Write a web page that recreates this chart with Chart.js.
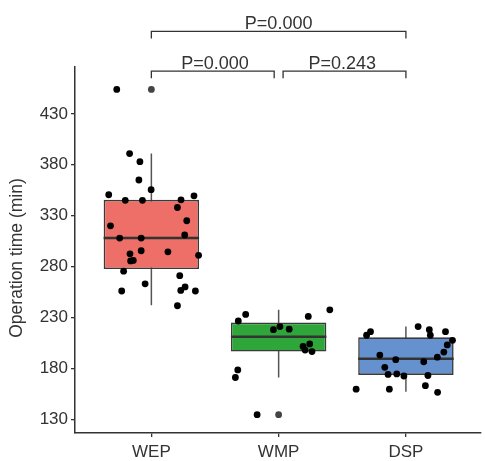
<!DOCTYPE html>
<html>
<head>
<meta charset="utf-8">
<script src="https://cdn.jsdelivr.net/npm/chart.js@4.4.0/dist/chart.umd.min.js"></script>
<style>
html, body { margin: 0; padding: 0; background: #fff; }
#wrap { width: 485px; height: 461px; }
</style>
</head>
<body>
<div id="wrap"><canvas id="boxChart" width="485" height="461"></canvas></div>
<script>
// Operation time by group - boxplot with jittered points

const categories = ['WEP', 'WMP', 'DSP'];
const yTicks = [130, 180, 230, 280, 330, 380, 430];

// box stats per group
const whiskerLow = [242, 171, 157];
const q1 = [277.5, 196.5, 173.5];
const medians = [308, 211, 189.5];
const q3 = [345.5, 225, 210.5];
const whiskerHigh = [391, 237.5, 221];
const outliers = [[454], [134.5], []];
const boxColors = ['#ED6F67', '#2EA63A', '#6592CF'];

// raw observations and their horizontal jitter
const wepTime = [454, 391, 383, 365, 355.5, 350.5, 349.5, 345, 345, 345.5, 338, 325, 320, 311, 308, 308, 295.5, 292.5, 294.5, 291, 285.5, 286, 275.5, 271, 263, 256, 260, 256.5, 256, 241.5];
const wepJitter = [-0.272, -0.171, -0.090, -0.098, -0.002, -0.335, 0.335, -0.205, -0.070, 0.233, 0.205, 0.278, -0.321, 0.262, -0.249, -0.080, -0.080, -0.168, 0.130, 0.371, -0.163, -0.142, -0.218, 0.223, -0.049, -0.233, 0.265, 0.231, 0.346, 0.205];
const wmpTime = [233, 226.5, 231, 237.5, 221, 218, 218.5, 204, 201.5, 198, 196.5, 178.5, 171, 134.5];
const wmpJitter = [-0.259, -0.317, 0.233, 0.402, 0.010, -0.041, 0.083, 0.244, 0.192, 0.208, 0.262, -0.321, -0.340, -0.169];
const dspTime = [212.5, 216, 221, 218, 212.5, 216, 207.5, 203, 196, 191, 193, 188.5, 186.5, 181, 174, 174.5, 172.5, 173, 163, 159.5, 159.5, 156.5];
const dspJitter = [-0.309, -0.278, 0.096, 0.184, 0.192, 0.311, 0.366, 0.325, 0.298, 0.247, -0.205, -0.080, 0.140, -0.166, -0.140, -0.072, -0.016, 0.173, 0.153, -0.391, -0.130, 0.249];

// significance brackets
const bracketFrom = [1, 2, 1];
const bracketTo = [2, 3, 3];
const bracketLevel = [472, 472, 511];
const pLabels = ['P=0.000', 'P=0.243', 'P=0.000'];

const FONT = "'Liberation Sans', Arial, Helvetica, sans-serif";
const INK = '#333333';
const boxWidth = 0.75;
const bracketDrop = 7;
const bracketGap = 0.035;

function groupPoints(times, jitter, pos) {
    return times.map((t, i) => ({ x: pos + jitter[i], y: t }));
}

const jitterPoints = [].concat(
    groupPoints(wepTime, wepJitter, 1),
    groupPoints(wmpTime, wmpJitter, 2),
    groupPoints(dspTime, dspJitter, 3)
);

const outlierPoints = [];
outliers.forEach((list, i) => list.forEach(v => outlierPoints.push({ x: i + 1, y: v })));

const whiskerData = [];
categories.forEach((c, i) => {
    whiskerData.push({ x: i + 1, y: whiskerLow[i] }, { x: i + 1, y: whiskerHigh[i] }, { x: i + 1, y: null });
});

const medianData = [];
categories.forEach((c, i) => {
    medianData.push({ x: i + 1 - boxWidth / 2, y: medians[i] }, { x: i + 1 + boxWidth / 2, y: medians[i] }, { x: i + 1, y: null });
});

// bracket lines; ends that meet another bracket on the same level are pulled in a bit
const bracketSets = bracketFrom.map((a, i) => {
    const b = bracketTo[i];
    const shared = v => bracketLevel.some((l, j) => j !== i && l === bracketLevel[i] && (bracketFrom[j] === v || bracketTo[j] === v));
    const xa = a + (shared(a) ? bracketGap : 0);
    const xb = b - (shared(b) ? bracketGap : 0);
    return {
        type: 'line',
        data: [
            { x: xa, y: bracketLevel[i] - bracketDrop },
            { x: xa, y: bracketLevel[i] },
            { x: xb, y: bracketLevel[i] },
            { x: xb, y: bracketLevel[i] - bracketDrop }
        ],
        borderColor: INK,
        borderWidth: 1.3,
        pointRadius: 0,
        clip: false,
        order: 5
    };
});

// text annotations: p values and y title
const annotationPlugin = {
    id: 'annotations',
    afterDatasetsDraw(chart) {
        const ctx = chart.ctx;
        const xs = chart.scales.x;
        const ys = chart.scales.y;
        ctx.save();
        ctx.fillStyle = INK;
        ctx.font = '18px ' + FONT;
        ctx.textAlign = 'center';
        ctx.textBaseline = 'alphabetic';
        pLabels.forEach((lab, i) => {
            const cx = xs.getPixelForValue((bracketFrom[i] + bracketTo[i]) / 2);
            const cy = ys.getPixelForValue(bracketLevel[i]) - 2.5;
            ctx.fillText(lab, cx, cy);
        });
        ctx.translate(17, 258);
        ctx.rotate(-Math.PI / 2);
        ctx.textBaseline = 'middle';
        ctx.font = '17.5px ' + FONT;
        ctx.fillText('Operation time (min)', 0, 0);
        ctx.restore();
    }
};

const ctx = document.getElementById('boxChart').getContext('2d');
new Chart(ctx, {
    data: {
        datasets: [
            {
                type: 'scatter',
                data: jitterPoints,
                backgroundColor: '#000',
                borderWidth: 0,
                pointRadius: 3.4,
                order: 0
            },
            {
                type: 'scatter',
                data: outlierPoints,
                backgroundColor: '#444',
                borderWidth: 0,
                pointRadius: 3.4,
                order: 1
            },
            {
                type: 'line',
                data: medianData,
                borderColor: INK,
                borderWidth: 2.6,
                pointRadius: 0,
                spanGaps: false,
                order: 2
            },
            {
                type: 'bar',
                data: categories.map((c, i) => ({ x: i + 1, y: [q1[i], q3[i]] })),
                backgroundColor: boxColors,
                borderColor: '#3a3a3a',
                borderWidth: 1.6,
                borderSkipped: false,
                barPercentage: boxWidth,
                categoryPercentage: 1,
                order: 3
            },
            {
                type: 'line',
                data: whiskerData,
                borderColor: '#555',
                borderWidth: 1.5,
                pointRadius: 0,
                spanGaps: false,
                order: 4
            }
        ].concat(bracketSets)
    },
    options: {
        responsive: false,
        animation: false,
        devicePixelRatio: 1,
        layout: { padding: { top: 67, left: 0, right: 0, bottom: 0 } },
        plugins: {
            legend: { display: false },
            tooltip: { enabled: false }
        },
        scales: {
            x: {
                type: 'linear',
                offset: false,
                min: 0.4,
                max: 3.59,
                afterBuildTicks: s => { s.ticks = categories.map((c, i) => ({ value: i + 1 })); },
                afterFit: s => { s.height = 28; },
                ticks: {
                    callback: v => categories[v - 1],
                    color: INK,
                    font: { family: FONT, size: 17 },
                    padding: 5,
                    maxRotation: 0
                },
                grid: { offset: false, drawOnChartArea: false, drawTicks: true, tickLength: 4, color: INK, lineWidth: 1.3 },
                border: { display: true, color: INK, width: 1.5 }
            },
            y: {
                type: 'linear',
                min: 116.5,
                max: 476,
                afterBuildTicks: s => { s.ticks = yTicks.map(v => ({ value: v })); },
                afterFit: s => { s.width = 75; },
                ticks: {
                    color: INK,
                    font: { family: FONT, size: 17 },
                    padding: 3
                },
                grid: { drawOnChartArea: false, drawTicks: true, tickLength: 4, color: INK, lineWidth: 1.3 },
                border: { display: true, color: INK, width: 1.5 }
            }
        }
    },
    plugins: [annotationPlugin]
});
</script>
</body>
</html>
